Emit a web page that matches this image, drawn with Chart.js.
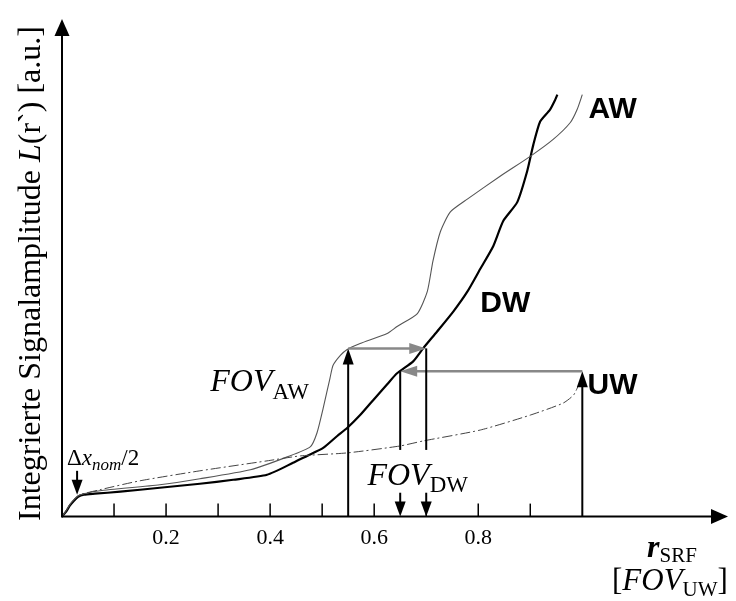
<!DOCTYPE html>
<html>
<head>
<meta charset="utf-8">
<title>Integrierte Signalamplitude</title>
<script src="https://cdn.jsdelivr.net/npm/chart.js"></script>
<style>
  html, body { margin: 0; padding: 0; background: #fff; }
</style>
</head>
<body>
<canvas id="chart" width="736" height="601"></canvas>
<script>
// r_SRF in FOV_UW, L(r') in a.u.
const dwX = [0, 0.008, 0.015, 0.023, 0.031, 0.042, 0.063, 0.112, 0.188, 0.265, 0.329, 0.394, 0.444, 0.471, 0.502, 0.529, 0.548, 0.573, 0.598, 0.625, 0.644, 0.675, 0.694, 0.721, 0.752, 0.779, 0.804, 0.829, 0.848, 0.875, 0.894, 0.906, 0.919, 0.938, 0.948, 0.952];
const dwY = [0, 0.010, 0.022, 0.032, 0.040, 0.044, 0.046, 0.050, 0.058, 0.066, 0.074, 0.084, 0.108, 0.122, 0.138, 0.162, 0.178, 0.204, 0.234, 0.266, 0.288, 0.312, 0.338, 0.372, 0.412, 0.452, 0.498, 0.544, 0.594, 0.632, 0.694, 0.748, 0.794, 0.818, 0.838, 0.848];

const awX = [0, 0.008, 0.015, 0.023, 0.031, 0.042, 0.073, 0.188, 0.265, 0.362, 0.433, 0.477, 0.490, 0.502, 0.515, 0.521, 0.535, 0.548, 0.573, 0.625, 0.644, 0.683, 0.702, 0.713, 0.727, 0.746, 0.779, 0.842, 0.900, 0.944, 0.977, 0.990, 1.000];
const awY = [0, 0.012, 0.024, 0.034, 0.042, 0.046, 0.052, 0.064, 0.076, 0.094, 0.120, 0.140, 0.168, 0.218, 0.278, 0.304, 0.324, 0.336, 0.348, 0.368, 0.382, 0.408, 0.452, 0.514, 0.572, 0.612, 0.638, 0.684, 0.724, 0.758, 0.792, 0.818, 0.848];

const uwX = [0, 0.008, 0.015, 0.023, 0.035, 0.073, 0.150, 0.265, 0.394, 0.458, 0.548, 0.650, 0.694, 0.804, 0.900, 0.963, 0.983, 0.992, 1.000];
const uwY = [0, 0.012, 0.024, 0.034, 0.044, 0.054, 0.072, 0.092, 0.112, 0.122, 0.128, 0.142, 0.152, 0.174, 0.204, 0.228, 0.244, 0.262, 0.278];

const xTickMarks = [0.1, 0.2, 0.3, 0.4, 0.5, 0.6, 0.7, 0.8, 0.9];
const xTickLabels = [0.2, 0.4, 0.6, 0.8];

// FOV construction: [x, yFrom, yTo] and [xFrom, xTo, y]
const upArrows = [[0.55, 0, 0.338], [1.0, 0, 0.292]];
const grayArrows = [[0.55, 0.70, 0.338], [1.0, 0.65, 0.292]];
const dropLines = [[0.65, 0.292, 0.134], [0.70, 0.338, 0.134]];
const downArrows = [[0.65, 0.048, 0], [0.70, 0.048, 0], [0.029, 0.092, 0.044]];

const pts = (xs, ys) => xs.map((x, i) => ({ x: x, y: ys[i] }));

const SERIF = '"Liberation Serif", "Times New Roman", serif';
const SANS = '"Liberation Sans", Arial, sans-serif';

function arrow(ctx, x0, y0, x1, y1, color, lw, hl, hw) {
    const a = Math.atan2(y1 - y0, x1 - x0);
    ctx.save();
    ctx.strokeStyle = color;
    ctx.fillStyle = color;
    ctx.lineWidth = lw;
    ctx.beginPath();
    ctx.moveTo(x0, y0);
    ctx.lineTo(x1 - Math.cos(a) * hl * 0.8, y1 - Math.sin(a) * hl * 0.8);
    ctx.stroke();
    ctx.translate(x1, y1);
    ctx.rotate(a);
    ctx.beginPath();
    ctx.moveTo(0, 0);
    ctx.lineTo(-hl, -hw / 2);
    ctx.lineTo(-hl, hw / 2);
    ctx.closePath();
    ctx.fill();
    ctx.restore();
}

function rich(ctx, x, y, parts) {
    let cx = x;
    parts.forEach(p => {
        ctx.font = p.font;
        ctx.fillText(p.t, cx, y + (p.dy || 0));
        cx += ctx.measureText(p.t).width + (p.gap || 0);
    });
}

const sketch = {
    id: 'sketch',
    afterDatasetsDraw(chart) {
        const ctx = chart.ctx;
        const xs = chart.scales.x, ys = chart.scales.y;
        const px = v => xs.getPixelForValue(v);
        const py = v => ys.getPixelForValue(v);
        const area = chart.chartArea;
        ctx.save();

        // axes with arrow heads
        arrow(ctx, px(0), py(0) + 1, px(0), area.top, '#000', 2, 17, 15);
        arrow(ctx, px(0), py(0), area.right, py(0), '#000', 2, 17, 15);

        // inner tick marks
        ctx.strokeStyle = '#000';
        ctx.lineWidth = 1.5;
        xTickMarks.forEach(v => {
            ctx.beginPath();
            ctx.moveTo(px(v), py(0));
            ctx.lineTo(px(v), py(0) - 13);
            ctx.stroke();
        });

        // FOV construction
        upArrows.forEach(a => arrow(ctx, px(a[0]), py(a[1]), px(a[0]), py(a[2]), '#000', 2, 16, 11));
        grayArrows.forEach(a => arrow(ctx, px(a[0]), py(a[2]), px(a[1]), py(a[2]), '#888', 2.5, 17, 11));
        ctx.strokeStyle = '#000';
        ctx.lineWidth = 2;
        dropLines.forEach(a => {
            ctx.beginPath();
            ctx.moveTo(px(a[0]), py(a[1]));
            ctx.lineTo(px(a[0]), py(a[2]));
            ctx.stroke();
        });
        downArrows.forEach(a => arrow(ctx, px(a[0]), py(a[1]), px(a[0]), py(a[2]), '#000', 2, 15, 11));

        // labels
        ctx.fillStyle = '#000';
        ctx.textBaseline = 'alphabetic';
        ctx.textAlign = 'left';
        ctx.font = 'bold 30px ' + SANS;
        ctx.fillText('AW', px(1.012), py(0.802));
        ctx.fillText('DW', px(0.804), py(0.412));
        ctx.fillText('UW', px(1.01), py(0.246));

        rich(ctx, px(0.285), py(0.252), [
            { t: 'FOV', font: 'italic 32px ' + SERIF },
            { t: 'AW', font: '23px ' + SERIF, dy: 8 }
        ]);
        rich(ctx, px(0.587), py(0.064), [
            { t: 'FOV', font: 'italic 32px ' + SERIF },
            { t: 'DW', font: '23px ' + SERIF, dy: 7 }
        ]);
        rich(ctx, px(0.0096), py(0.104), [
            { t: '\u0394', font: '23px ' + SERIF },
            { t: 'x', font: 'italic 23px ' + SERIF },
            { t: 'nom', font: 'italic 17px ' + SERIF, dy: 5 },
            { t: '/2', font: '23px ' + SERIF }
        ]);

        // axis titles
        rich(ctx, 647, 557, [
            { t: 'r', font: 'bold italic 32px ' + SERIF },
            { t: 'SRF', font: '21px ' + SERIF, dy: 5 }
        ]);
        rich(ctx, 612, 590, [
            { t: '[', font: '31px ' + SERIF },
            { t: 'FOV', font: 'italic 31px ' + SERIF },
            { t: 'UW', font: '21px ' + SERIF, dy: 6 },
            { t: ']', font: '31px ' + SERIF }
        ]);

        ctx.translate(40, 521);
        ctx.rotate(-Math.PI / 2);
        rich(ctx, 0, 0, [
            { t: 'Integrierte Signalamplitude ', font: '32px ' + SERIF },
            { t: 'L', font: 'italic 32px ' + SERIF },
            { t: '(r`) [a.u.]', font: '32px ' + SERIF }
        ]);
        ctx.restore();
    }
};

new Chart(document.getElementById('chart'), {
    type: 'line',
    data: {
        datasets: [
            {
                label: 'UW',
                data: pts(uwX, uwY),
                borderColor: '#444',
                borderWidth: 1,
                borderDash: [10, 3, 2, 3],
                pointRadius: 0,
                tension: 0.2,
                fill: false
            },
            {
                label: 'AW',
                data: pts(awX, awY),
                borderColor: '#555',
                borderWidth: 1.1,
                pointRadius: 0,
                tension: 0.2,
                fill: false
            },
            {
                label: 'DW',
                data: pts(dwX, dwY),
                borderColor: '#000',
                borderWidth: 2.2,
                pointRadius: 0,
                tension: 0.2,
                fill: false
            }
        ]
    },
    options: {
        responsive: false,
        animation: false,
        layout: { padding: { left: 62, right: 8, top: 19, bottom: 42 } },
        plugins: { legend: { display: false }, tooltip: { enabled: false } },
        scales: {
            x: {
                type: 'linear',
                min: 0,
                max: 1.28,
                grid: { display: false, drawTicks: false },
                border: { display: false },
                ticks: {
                    stepSize: 0.1,
                    padding: 8,
                    color: '#000',
                    maxRotation: 0,
                    autoSkip: false,
                    font: { family: SERIF, size: 22 },
                    callback: v => {
                        const r = Math.round(v * 10) / 10;
                        return xTickLabels.includes(r) ? r.toFixed(1) : '';
                    }
                }
            },
            y: {
                type: 'linear',
                display: false,
                min: 0,
                max: 1
            }
        }
    },
    plugins: [sketch]
});
</script>
</body>
</html>
